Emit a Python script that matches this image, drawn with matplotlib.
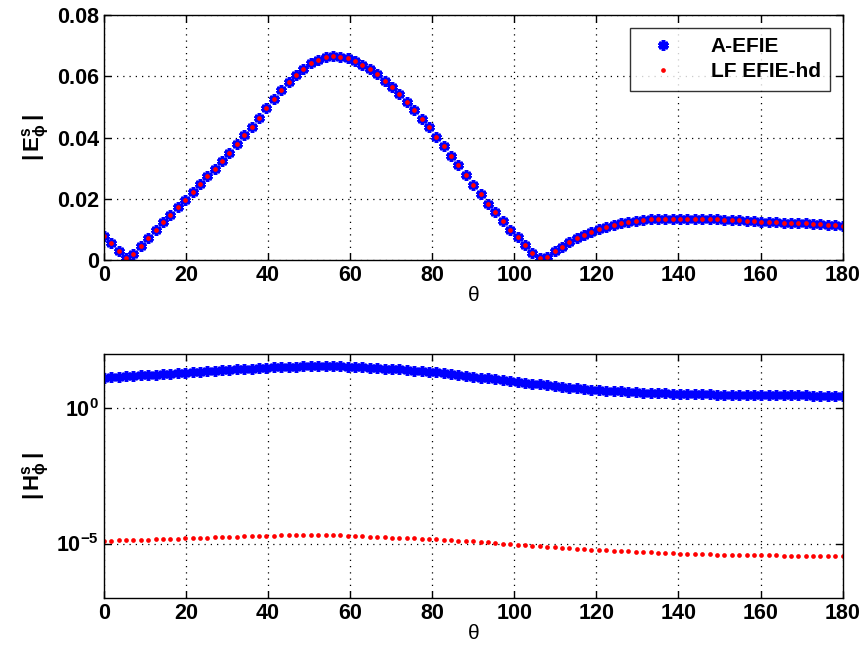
import numpy as np
import matplotlib

matplotlib.use("Agg")
import matplotlib.pyplot as plt

# scattering angle, 0:1.8:180 deg
theta = np.linspace(0.0, 180.0, 101)

# |E_phi^s| for both formulations
e_phi_aefie = [
    0.0080, 0.0055, 0.0031, 0.0006, 0.0022, 0.0047, 0.0072, 0.0099, 0.0124, 0.0149,
    0.0173, 0.0198, 0.0223, 0.0249, 0.0274, 0.0299, 0.0324, 0.0351, 0.0378, 0.0407,
    0.0436, 0.0465, 0.0496, 0.0526, 0.0554, 0.0582, 0.0605, 0.0625, 0.0643, 0.0654,
    0.0662, 0.0665, 0.0663, 0.0658, 0.0651, 0.0638, 0.0623, 0.0606, 0.0586, 0.0565,
    0.0542, 0.0517, 0.0491, 0.0462, 0.0433, 0.0403, 0.0371, 0.0341, 0.0311, 0.0278,
    0.0246, 0.0215, 0.0185, 0.0156, 0.0128, 0.0100, 0.0075, 0.0049, 0.0025, 0.0008,
    0.0011, 0.0031, 0.0044, 0.0058, 0.0071, 0.0082, 0.0093, 0.0101, 0.0108, 0.0114,
    0.0120, 0.0124, 0.0128, 0.0131, 0.0133, 0.0134, 0.0134, 0.0134, 0.0135, 0.0135,
    0.0134, 0.0134, 0.0134, 0.0133, 0.0132, 0.0131, 0.0130, 0.0129, 0.0128, 0.0126,
    0.0125, 0.0124, 0.0123, 0.0122, 0.0121, 0.0120, 0.0118, 0.0117, 0.0116, 0.0114,
    0.0113,
]
e_phi_lf = [
    0.0080, 0.0055, 0.0031, 0.0006, 0.0022, 0.0047, 0.0072, 0.0099, 0.0124, 0.0149,
    0.0173, 0.0198, 0.0223, 0.0249, 0.0274, 0.0299, 0.0324, 0.0351, 0.0378, 0.0407,
    0.0436, 0.0465, 0.0496, 0.0526, 0.0554, 0.0582, 0.0605, 0.0625, 0.0643, 0.0654,
    0.0662, 0.0665, 0.0663, 0.0658, 0.0651, 0.0638, 0.0623, 0.0606, 0.0586, 0.0565,
    0.0542, 0.0517, 0.0491, 0.0462, 0.0433, 0.0403, 0.0371, 0.0341, 0.0311, 0.0278,
    0.0246, 0.0215, 0.0185, 0.0156, 0.0128, 0.0100, 0.0075, 0.0049, 0.0025, 0.0008,
    0.0011, 0.0031, 0.0044, 0.0058, 0.0071, 0.0082, 0.0093, 0.0101, 0.0108, 0.0114,
    0.0120, 0.0124, 0.0128, 0.0131, 0.0133, 0.0134, 0.0134, 0.0134, 0.0135, 0.0135,
    0.0134, 0.0134, 0.0134, 0.0133, 0.0132, 0.0131, 0.0130, 0.0129, 0.0128, 0.0126,
    0.0125, 0.0124, 0.0123, 0.0122, 0.0121, 0.0120, 0.0118, 0.0117, 0.0116, 0.0114,
    0.0113,
]

# |H_phi^s| for A-EFIE
h_phi_aefie = [
    13.2, 13.7, 14.2, 14.7, 15.3, 15.9, 16.5, 17.1, 17.8, 18.4,
    19.1, 19.9, 20.7, 21.6, 22.5, 23.4, 24.4, 25.4, 26.4, 27.4,
    28.4, 29.5, 30.6, 31.6, 32.4, 33.1, 33.7, 34.3, 34.8, 35.2,
    35.4, 35.5, 34.7, 33.4, 32.4, 31.3, 30.3, 29.3, 28.4, 27.4,
    26.2, 25.0, 23.9, 22.9, 21.8, 20.5, 19.1, 17.7, 16.4, 15.2,
    14.1, 13.1, 12.2, 11.3, 10.5, 9.73, 9.04, 8.43, 7.85, 7.33,
    6.82, 6.35, 6.00, 5.65, 5.33, 5.04, 4.75, 4.52, 4.35, 4.19,
    4.04, 3.89, 3.75, 3.66, 3.58, 3.51, 3.44, 3.37, 3.30, 3.26,
    3.22, 3.18, 3.14, 3.10, 3.08, 3.05, 3.02, 3.00, 2.97, 2.95,
    2.94, 2.92, 2.91, 2.90, 2.89, 2.88, 2.86, 2.85, 2.84, 2.83,
    2.82,
]

# |H_phi^s| for LF EFIE-hd, in units of 1e-5
h_phi_lf_e5 = [
    1.26, 1.28, 1.30, 1.32, 1.35, 1.37, 1.39, 1.42, 1.45, 1.48,
    1.51, 1.55, 1.58, 1.61, 1.64, 1.68, 1.71, 1.75, 1.79, 1.82,
    1.86, 1.90, 1.94, 1.97, 1.99, 2.00, 2.02, 2.03, 2.04, 2.05,
    2.05, 2.04, 2.01, 1.97, 1.91, 1.86, 1.80, 1.75, 1.70, 1.66,
    1.61, 1.57, 1.53, 1.50, 1.46, 1.42, 1.37, 1.33, 1.29, 1.24,
    1.20, 1.14, 1.09, 1.04, 0.986, 0.938, 0.895, 0.859, 0.824, 0.791,
    0.759, 0.728, 0.698, 0.670, 0.643, 0.617, 0.592, 0.570, 0.553, 0.538,
    0.522, 0.507, 0.493, 0.481, 0.469, 0.457, 0.446, 0.435, 0.425, 0.418,
    0.411, 0.405, 0.398, 0.391, 0.387, 0.384, 0.380, 0.378, 0.374, 0.371,
    0.366, 0.362, 0.357, 0.353, 0.348, 0.346, 0.344, 0.343, 0.341, 0.340,
    0.339,
]

x_ticks = [0, 20, 40, 60, 80, 100, 120, 140, 160, 180]
e_ticks = [0, 0.02, 0.04, 0.06, 0.08]
e_tick_labels = ["0", "0.02", "0.04", "0.06", "0.08"]
h_ticks = [1e0, 1e-5]
h_tick_labels = [r"$\mathbf{10^{0}}$", r"$\mathbf{10^{-5}}$"]

plt.rcParams["font.family"] = ["Liberation Sans", "DejaVu Sans"]
plt.rcParams["font.weight"] = "bold"
plt.rcParams["mathtext.fontset"] = "custom"
plt.rcParams["mathtext.rm"] = "Liberation Sans:bold"
plt.rcParams["mathtext.bf"] = "Liberation Sans:bold"
plt.rcParams["mathtext.it"] = "Liberation Sans:bold"

# MATLAB-style asterisk marker
star = (6, 2, 0)
blue_kw = dict(linestyle="none", marker=star, color="blue", markersize=7.5,
               markeredgewidth=2.6)
red_kw = dict(linestyle="none", marker="o", color="red", markersize=3.4,
              markeredgewidth=0)

fig = plt.figure(figsize=(8.66, 6.49), dpi=100)
ax1 = fig.add_axes([0.120, 0.599, 0.853, 0.378])
ax2 = fig.add_axes([0.120, 0.079, 0.853, 0.376])

ax1.plot(theta, e_phi_aefie, label="A-EFIE", **blue_kw)
ax1.plot(theta, e_phi_lf, label="LF EFIE-hd", **red_kw)
ax1.set_xlim(0, 180)
ax1.set_ylim(0, 0.08)
ax1.set_xticks(x_ticks)
ax1.set_yticks(e_ticks)
ax1.set_yticklabels(e_tick_labels)
ax1.set_xlabel("θ", fontsize=15, labelpad=0)
ax1.set_ylabel(r"$\mathbf{|\,E^{s}_{\phi}\,|}$", fontsize=16, labelpad=4)
leg = ax1.legend(loc="upper right", bbox_to_anchor=(0.997, 0.99), fontsize=15,
                 frameon=True, fancybox=False, edgecolor="black",
                 handletextpad=1.2, handlelength=2.2, borderpad=0.45,
                 labelspacing=0.3, markerscale=1.0)
leg.get_frame().set_linewidth(1.0)

ax2.semilogy(theta, h_phi_aefie, **blue_kw)
ax2.semilogy(theta, np.array(h_phi_lf_e5) * 1e-5, **red_kw)
ax2.set_xlim(0, 180)
ax2.set_ylim(1e-7, 1e2)
ax2.set_xticks(x_ticks)
ax2.set_yticks(h_ticks)
ax2.set_yticklabels(h_tick_labels)
ax2.yaxis.set_minor_locator(matplotlib.ticker.NullLocator())
ax2.set_xlabel("θ", fontsize=15, labelpad=0)
ax2.set_ylabel(r"$\mathbf{|\,H^{s}_{\phi}\,|}$", fontsize=16, labelpad=4)

for ax in (ax1, ax2):
    ax.grid(True, linestyle=(0, (1, 4)), color="black", linewidth=0.9)
    ax.tick_params(direction="in", top=True, right=True, length=5,
                   labelsize=15.5, width=1)
    for lbl in ax.get_xticklabels() + ax.get_yticklabels():
        lbl.set_fontweight("bold")
    for sp in ax.spines.values():
        sp.set_linewidth(1.0)
    ax.set_axisbelow(True)

fig.savefig("out.png", dpi=100)
plt.close(fig)
